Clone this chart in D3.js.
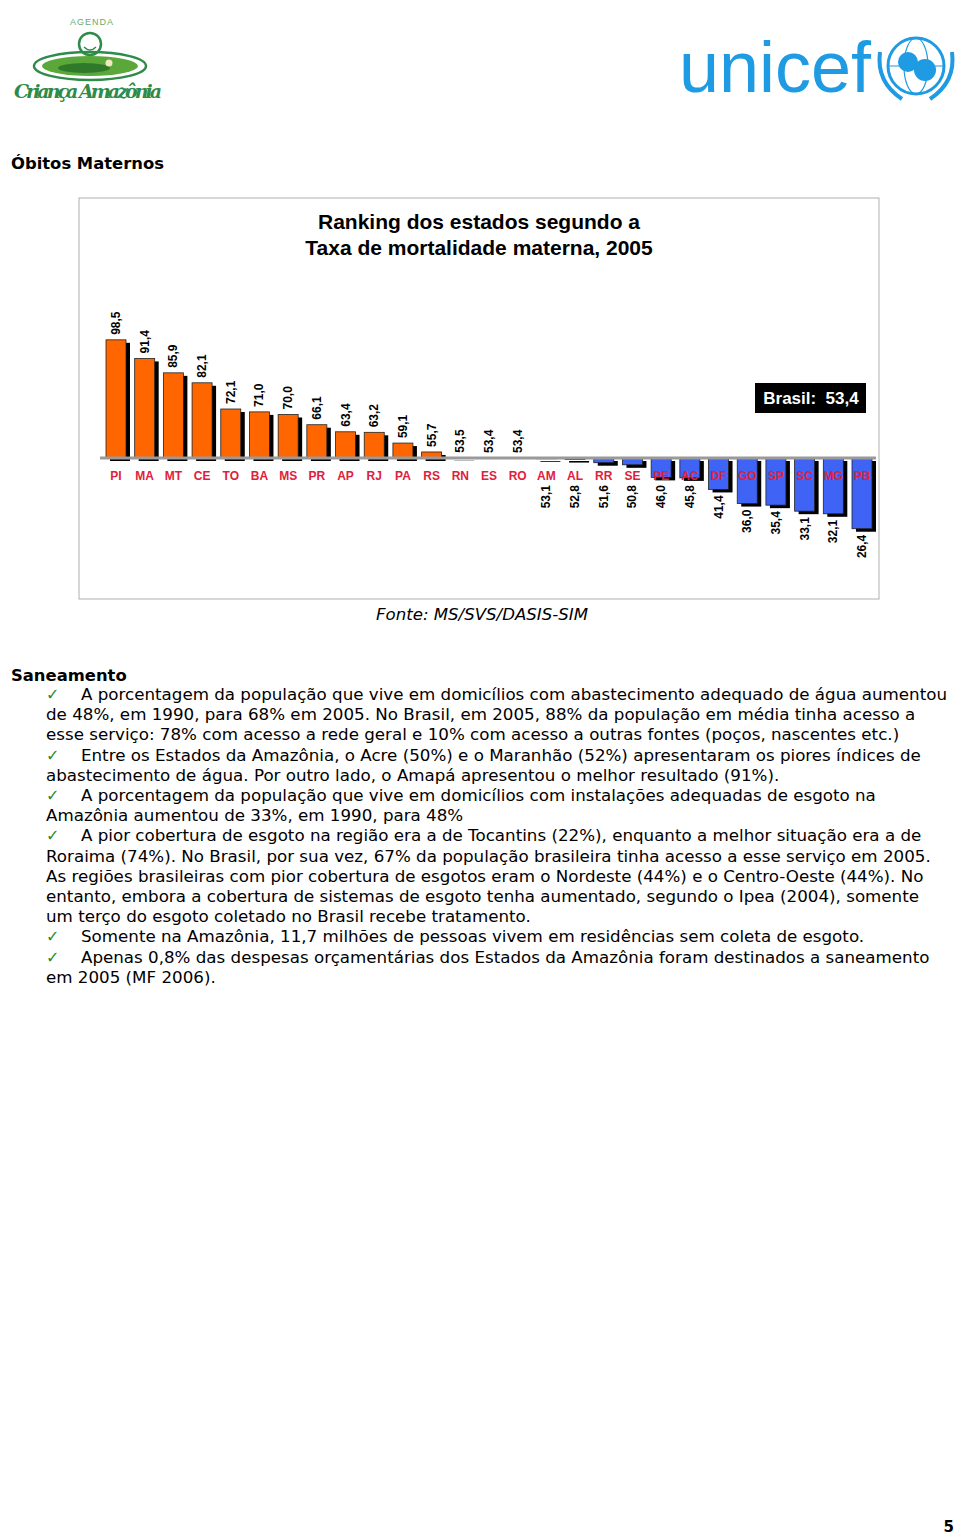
<!DOCTYPE html>
<html>
<head>
<meta charset="utf-8">
<script src="https://cdn.jsdelivr.net/npm/d3@7"></script>
<style>
  body { margin: 0; background: #fff; }
  svg { display: block; }
</style>
</head>
<body>
<svg id="page"></svg>
<script>
// ranking data (taxa de mortalidade materna, 2005)
const states = ["PI","MA","MT","CE","TO","BA","MS","PR","AP","RJ","PA","RS","RN","ES","RO","AM","AL","RR","SE","PE","AC","DF","GO","SP","SC","MG","PB"];
const rates = [98.5,91.4,85.9,82.1,72.1,71.0,70.0,66.1,63.4,63.2,59.1,55.7,53.5,53.4,53.4,53.1,52.8,51.6,50.8,46.0,45.8,41.4,36.0,35.4,33.1,32.1,26.4];
const brasil = 53.4;

const titleLines = ["Ranking dos estados segundo a", "Taxa de mortalidade materna, 2005"];

// text block below the chart
const bodyLines = [
    { check: true,  text: "A porcentagem da população que vive em domicílios com abastecimento adequado de água aumentou" },
    { check: false, text: "de 48%, em 1990, para 68% em 2005. No Brasil, em 2005, 88% da população em média tinha acesso a" },
    { check: false, text: "esse serviço: 78% com acesso a rede geral e 10% com acesso a outras fontes (poços, nascentes etc.)" },
    { check: true,  text: "Entre os Estados da Amazônia, o Acre (50%) e o Maranhão (52%) apresentaram os piores índices de" },
    { check: false, text: "abastecimento de água. Por outro lado, o Amapá apresentou o melhor resultado (91%)." },
    { check: true,  text: "A porcentagem da população que vive em domicílios com instalações adequadas de esgoto na" },
    { check: false, text: "Amazônia aumentou de 33%, em 1990, para 48%" },
    { check: true,  text: "A pior cobertura de esgoto na região era a de Tocantins (22%), enquanto a melhor situação era a de" },
    { check: false, text: "Roraima (74%). No Brasil, por sua vez, 67% da população brasileira tinha acesso a esse serviço em 2005." },
    { check: false, text: "As regiões brasileiras com pior cobertura de esgotos eram o Nordeste (44%) e o Centro-Oeste (44%). No" },
    { check: false, text: "entanto, embora a cobertura de sistemas de esgoto tenha aumentado, segundo o Ipea (2004), somente" },
    { check: false, text: "um terço do esgoto coletado no Brasil recebe tratamento." },
    { check: true,  text: "Somente na Amazônia, 11,7 milhões de pessoas vivem em residências sem coleta de esgoto." },
    { check: true,  text: "Apenas 0,8% das despesas orçamentárias dos Estados da Amazônia foram destinados a saneamento" },
    { check: false, text: "em 2005 (MF 2006)." }
];

const W = 960, H = 1535;
const svg = d3.select("#page").attr("width", W).attr("height", H);

const verdana = "Verdana, 'DejaVu Sans', sans-serif";
const arial = "Arial, 'Liberation Sans', sans-serif";

// ---------- header logos (rough drawings) ----------
const agenda = svg.append("g");
agenda.append("text")
    .attr("x", 92).attr("y", 25)
    .attr("text-anchor", "middle")
    .style("font-family", arial).style("font-size", "9px")
    .style("letter-spacing", "1px")
    .attr("fill", "#6aa86a")
    .text("AGENDA");
agenda.append("circle")
    .attr("cx", 90).attr("cy", 44).attr("r", 11)
    .attr("fill", "none").attr("stroke", "#2e8b4a").attr("stroke-width", 2.5);
agenda.append("path")
    .attr("d", "M84,47 Q90,53 96,47")
    .attr("fill", "none").attr("stroke", "#2e8b4a").attr("stroke-width", 1.5);
agenda.append("ellipse")
    .attr("cx", 90).attr("cy", 66).attr("rx", 56).attr("ry", 14)
    .attr("fill", "none").attr("stroke", "#2e8b4a").attr("stroke-width", 2.5);
agenda.append("ellipse")
    .attr("cx", 90).attr("cy", 66).attr("rx", 48).attr("ry", 10)
    .attr("fill", "#5aa83a");
agenda.append("ellipse")
    .attr("cx", 84).attr("cy", 68).attr("rx", 26).attr("ry", 5)
    .attr("fill", "#2f7a2a");
agenda.append("circle")
    .attr("cx", 109).attr("cy", 63).attr("r", 3.5).attr("fill", "#f3e6c0");
agenda.append("text")
    .attr("x", 88).attr("y", 98)
    .attr("text-anchor", "middle")
    .style("font-family", "'DejaVu Serif', serif")
    .style("font-style", "italic").style("font-weight", "bold")
    .style("font-size", "19px")
    .attr("fill", "#2e8b4a")
    .attr("textLength", 148)
    .text("Criança Amazônia");

const unicefBlue = "#1e9be3";
svg.append("text")
    .attr("x", 679).attr("y", 92)
    .style("font-family", arial).style("font-size", "72px")
    .attr("fill", unicefBlue)
    .attr("textLength", 192)
    .text("unicef");
const emb = svg.append("g").attr("transform", "translate(916,66)");
emb.append("circle").attr("r", 28).attr("fill", "none").attr("stroke", unicefBlue).attr("stroke-width", 3);
emb.append("ellipse").attr("rx", 12).attr("ry", 28).attr("fill", "none").attr("stroke", unicefBlue).attr("stroke-width", 1.2);
emb.append("line").attr("x1", -28).attr("x2", 28).attr("stroke", unicefBlue).attr("stroke-width", 1.2);
emb.append("circle").attr("cx", -8).attr("cy", -4).attr("r", 10).attr("fill", unicefBlue);
emb.append("circle").attr("cx", 9).attr("cy", 4).attr("r", 11).attr("fill", unicefBlue);
emb.append("path").attr("d", "M-36,-14 Q-40,16 -14,33 M36,-14 Q40,16 14,33")
    .attr("fill", "none").attr("stroke", unicefBlue).attr("stroke-width", 4);

// ---------- section heading ----------
svg.append("text")
    .attr("x", 11).attr("y", 169)
    .style("font-family", verdana).style("font-weight", "bold").style("font-size", "16.4px")
    .attr("fill", "#000")
    .text("Óbitos Maternos");

// ---------- chart frame ----------
const frame = { x: 79, y: 198, w: 800, h: 401 };
svg.append("rect")
    .attr("x", frame.x).attr("y", frame.y)
    .attr("width", frame.w).attr("height", frame.h)
    .attr("fill", "#fff").attr("stroke", "#b0b0b0").attr("stroke-width", 1);

svg.append("g").selectAll("text")
    .data(titleLines)
    .enter()
    .append("text")
    .attr("x", 479)
    .attr("y", (d, i) => 229 + i * 26)
    .attr("text-anchor", "middle")
    .style("font-family", arial).style("font-weight", "bold").style("font-size", "21px")
    .text(d => d);

// scales
const x = d3.scalePoint().domain(states).range([116, 862]);
const y = d3.scaleLinear().domain([20, 100]).range([545.5, 335.9]);
const barW = 20;
const base = y(brasil);

const data = states.map((s, i) => ({ state: s, value: rates[i] }));

const chart = svg.append("g");

// shadows
chart.selectAll(".shadow")
    .data(data)
    .enter()
    .append("rect")
    .attr("class", "shadow")
    .attr("x", d => x(d.state) - barW / 2 + 4)
    .attr("y", d => Math.min(y(d.value), base) + 3)
    .attr("width", barW)
    .attr("height", d => Math.abs(y(d.value) - base))
    .attr("fill", "#000");

// bars
chart.selectAll(".bar")
    .data(data)
    .enter()
    .append("rect")
    .attr("class", "bar")
    .attr("x", d => x(d.state) - barW / 2)
    .attr("y", d => Math.min(y(d.value), base))
    .attr("width", barW)
    .attr("height", d => Math.abs(y(d.value) - base))
    .attr("fill", d => d.value >= brasil ? "#ff6600" : "#3f63f5")
    .attr("stroke", "#222")
    .attr("stroke-width", 0.8);

// baseline (Brasil average)
chart.append("line")
    .attr("x1", 100).attr("x2", 876)
    .attr("y1", base).attr("y2", base)
    .attr("stroke", "#9a9a9a").attr("stroke-width", 3);

// category labels
chart.selectAll(".cat")
    .data(data)
    .enter()
    .append("text")
    .attr("class", "cat")
    .attr("x", d => x(d.state))
    .attr("y", 480)
    .attr("text-anchor", "middle")
    .style("font-family", arial).style("font-weight", "bold").style("font-size", "12px")
    .attr("fill", "#e0203a")
    .text(d => d.state);

// value labels, rotated
const fmt = v => v.toFixed(1).replace(".", ",");
chart.selectAll(".val")
    .data(data)
    .enter()
    .append("text")
    .attr("class", "val")
    .attr("transform", d => {
        const cx = x(d.state) + 4;
        if (d.value >= brasil) {
            return `translate(${cx},${y(d.value) - 5}) rotate(-90)`;
        }
        const top = Math.max(y(d.value) + 6, 485);
        return `translate(${cx},${top}) rotate(-90)`;
    })
    .attr("text-anchor", d => d.value >= brasil ? "start" : "end")
    .style("font-family", arial).style("font-weight", "bold").style("font-size", "12px")
    .attr("fill", "#000")
    .text(d => fmt(d.value));

// Brasil box
chart.append("rect")
    .attr("x", 755).attr("y", 383).attr("width", 111).attr("height", 30)
    .attr("fill", "#000");
chart.append("text")
    .attr("x", 811).attr("y", 404)
    .attr("text-anchor", "middle")
    .style("font-family", arial).style("font-weight", "bold").style("font-size", "17px")
    .style("white-space", "pre")
    .attr("fill", "#fff")
    .text("Brasil:  " + fmt(brasil));

// source
svg.append("text")
    .attr("x", 482).attr("y", 620)
    .attr("text-anchor", "middle")
    .style("font-family", verdana).style("font-style", "italic").style("font-size", "16.6px")
    .text("Fonte: MS/SVS/DASIS-SIM");

// ---------- Saneamento text ----------
svg.append("text")
    .attr("x", 11).attr("y", 681)
    .style("font-family", verdana).style("font-weight", "bold").style("font-size", "16.4px")
    .text("Saneamento");

const body = svg.append("g");
bodyLines.forEach((ln, i) => {
    const by = 700 + i * 20.2;
    if (ln.check) {
        body.append("text")
            .attr("x", 46).attr("y", by)
            .style("font-family", "'DejaVu Sans', sans-serif").style("font-size", "16px")
            .attr("fill", "#2a8a2a")
            .text("✓");
    }
    body.append("text")
        .attr("x", ln.check ? 81 : 46).attr("y", by)
        .style("font-family", verdana).style("font-size", "16.7px")
        .attr("fill", "#000")
        .text(ln.text);
});

// page number
svg.append("text")
    .attr("x", 954).attr("y", 1532)
    .attr("text-anchor", "end")
    .style("font-family", verdana).style("font-weight", "bold").style("font-size", "15px")
    .text("5");
</script>
</body>
</html>
